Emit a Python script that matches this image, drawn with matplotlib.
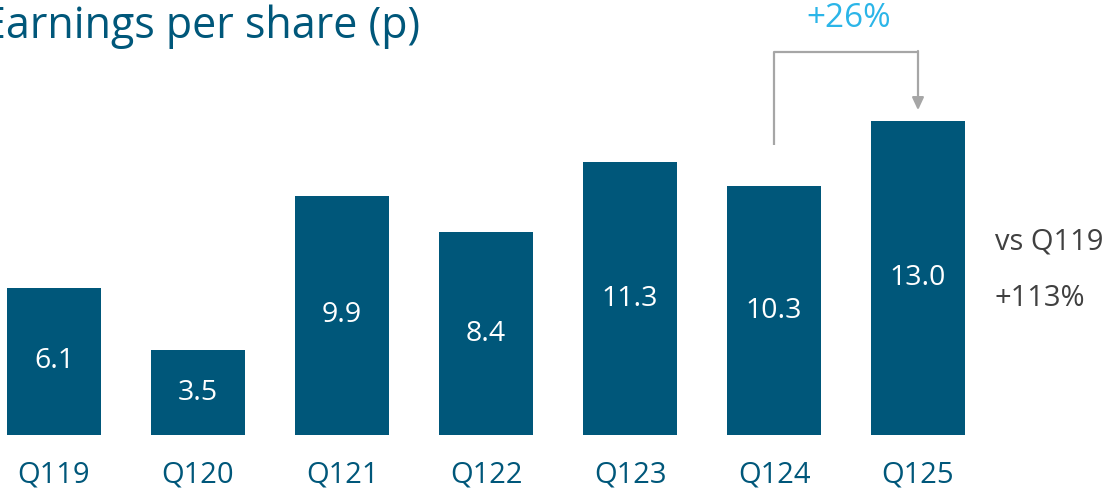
import matplotlib
matplotlib.use("Agg")
import matplotlib.pyplot as plt

quarters = ["Q119", "Q120", "Q121", "Q122", "Q123", "Q124", "Q125"]
eps = [6.1, 3.5, 9.9, 8.4, 11.3, 10.3, 13.0]
growth_yoy = "+26%"
growth_note = ["vs Q119", "+113%"]

bar_col = "#00577a"
teal = "#00577a"
grey = "#a6a6a6"
blue = "#2bb5e8"

plt.rcParams['font.family'] = ['Open Sans', 'DejaVu Sans']

W, H = 1114, 491
fig = plt.figure(figsize=(W / 100, H / 100), dpi=100)

# axes spans full width, baseline 56px from bottom, 24.15 px per unit
px_unit = 24.15
ax = fig.add_axes([0, 56 / H, 1, 435 / H])
ax.set_xlim(-54 / 144, (W - 54) / 144)
ax.set_ylim(0, 435 / px_unit)
ax.axis("off")

x = list(range(len(quarters)))
ax.bar(x, eps, width=94 / 144, color=bar_col)

for i, v in enumerate(eps):
    ax.text(i, v / 2, "%.1f" % v, color="white", fontsize=20.5,
            ha="center", va="center")
    ax.text(i, -40 / px_unit, quarters[i], color=teal, fontsize=21,
            ha="center", va="center", clip_on=False)

# bracket arrow Q124 -> Q125
top = 15.86
ax.plot([5, 5, 6], [eps[5] + 1.7, top, top], color=grey, lw=1.6,
        solid_capstyle="butt")
ax.annotate("", xy=(6, eps[6] + 0.45), xytext=(6, top + 0.04),
            arrowprops=dict(arrowstyle="-|>,head_length=0.75,head_width=0.35",
                            color=grey, lw=1.6, shrinkA=0, shrinkB=0))
ax.text(5.52, 17.25, growth_yoy, color=blue, fontsize=24,
        ha="center", va="center")

fig.text(995 / W, 1 - 242 / H, growth_note[0], color="#404040", fontsize=21,
         ha="left", va="center")
fig.text(995 / W, 1 - 299 / H, growth_note[1], color="#404040", fontsize=21,
         ha="left", va="center")

fig.text(420 / W, 1 - 38 / H, "Earnings per share (p)", color=teal,
         fontsize=31, ha="right", va="baseline")

fig.savefig("out.png", dpi=100)
